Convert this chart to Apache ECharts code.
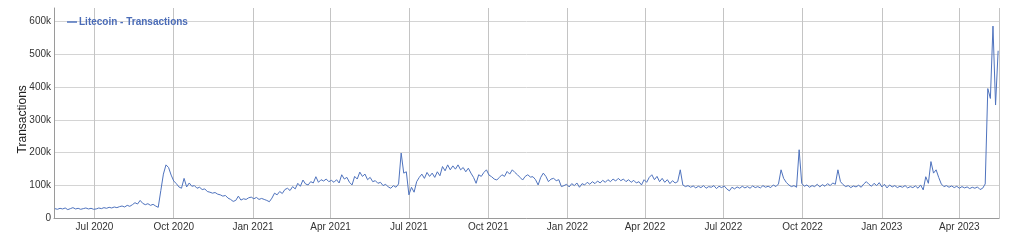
<!DOCTYPE html>
<html>
<head>
<meta charset="utf-8">
<script src="https://cdn.jsdelivr.net/npm/echarts@6/dist/echarts.min.js"></script>
<style>
html,body{margin:0;padding:0;background:#fff;}
#chart{width:1024px;height:240px;}
</style>
</head>
<body>
<div id="chart"></div>
<script>
// Series: Litecoin daily transactions (thousands), sampled every 3 days from 2020-05-16
const seriesName = 'Litecoin - Transactions';
const startDate = [2020, 4, 16];   // 2020-05-16
const stepDays = 3;
const transactionsK = [
  30,28,31,29,32,27,30,33,29,31,
  28,30,32,29,31,28,29,32,30,33,
  31,34,32,35,33,36,38,35,40,37,
  42,48,44,55,46,42,45,40,43,38,
  34,85,135,163,155,132,114,106,96,92,
  122,96,108,98,100,92,95,88,90,82,
  80,77,79,74,72,68,70,62,58,52,
  55,68,56,60,58,63,65,60,64,58,
  61,58,55,51,62,77,72,82,76,88,
  92,85,97,90,107,98,117,105,102,112,
  108,127,110,118,114,120,112,116,110,118,
  108,133,120,125,110,102,128,120,141,128,
  135,118,125,112,115,107,110,100,104,96,
  92,100,95,105,199,138,142,72,95,80,
  112,125,135,122,140,128,138,125,142,130,
  158,145,163,148,160,150,163,148,155,142,
  153,138,125,107,133,128,140,148,132,127,
  120,117,125,133,128,143,135,148,140,133,
  125,117,128,133,126,127,118,102,125,138,
  128,112,120,122,115,118,97,100,104,96,
  106,100,108,95,106,102,110,104,112,106,
  114,108,116,110,118,112,120,114,122,115,
  120,112,118,110,116,108,112,102,118,110,
  125,133,118,128,112,122,110,118,106,115,
  108,112,148,102,97,100,95,99,93,98,
  94,100,92,97,95,100,91,98,94,99,
  90,84,95,90,96,92,98,93,97,92,
  99,94,97,93,100,95,98,94,102,97,
  105,148,122,110,102,97,100,95,209,107,
  98,102,95,100,97,104,96,103,98,106,
  100,108,104,148,112,103,97,100,94,99,
  96,101,95,105,112,104,98,107,100,109,
  96,104,93,102,96,100,94,98,95,100,
  93,97,94,99,92,102,87,127,107,173,
  138,148,125,105,97,100,95,99,94,98,
  92,97,93,96,91,95,92,96,88,92,
  105,395,365,585,345,510
];
const yTicks = [0, 100000, 200000, 300000, 400000, 500000, 600000];
const monthNames = ['Jan','Feb','Mar','Apr','May','Jun','Jul','Aug','Sep','Oct','Nov','Dec'];

const dates = transactionsK.map((_, i) =>
  new Date(startDate[0], startDate[1], startDate[2] + i * stepDays).getTime());
const seriesData = transactionsK.map((v, i) => [dates[i], v * 1000]);

const chart = echarts.init(document.getElementById('chart'), null, {renderer: 'canvas'});
chart.setOption({
  animation: false,
  backgroundColor: '#ffffff',
  grid: {left: 54, right: 25, top: 8, bottom: 21.5, containLabel: false},
  legend: {
    data: [seriesName],
    left: 62, top: 12,
    icon: 'rect', itemWidth: 10, itemHeight: 1.5, itemGap: 10,
    textStyle: {color: '#4b6cb7', fontWeight: 'bold', fontSize: 10, fontFamily: 'Liberation Sans', padding: [0,0,0,-3]}
  },
  xAxis: {
    type: 'time',
    min: new Date(2020, 4, 15).getTime(),
    max: new Date(2023, 4, 17).getTime(),
    splitNumber: 12,
    minInterval: 86400000 * 85,
    maxInterval: 86400000 * 95,
    axisLine: {show: true, lineStyle: {color: '#9a9a9a', width: 1}},
    axisTick: {show: false},
    axisLabel: {
      color: '#333', fontSize: 10, fontFamily: 'Liberation Sans', margin: 4,
      showMinLabel: false, showMaxLabel: false,
      formatter: function (v) {
        const d = new Date(v);
        return monthNames[d.getMonth()] + ' ' + d.getFullYear();
      }
    },
    splitLine: {show: true, lineStyle: {color: '#c4c4c4', width: 1}}
  },
  yAxis: {
    type: 'value',
    min: 0, max: 640000, interval: 100000,
    name: 'Transactions', nameLocation: 'middle', nameGap: 25,
    nameMoveOverlap: false,
    nameTextStyle: {color: '#222', fontSize: 12, fontFamily: 'Liberation Sans', padding: [0, 12, 0, 0]},
    axisLine: {show: true, lineStyle: {color: '#9a9a9a', width: 1}},
    axisTick: {show: false},
    axisLabel: {
      color: '#333', fontSize: 10, fontFamily: 'Liberation Sans', margin: 3,
      showMaxLabel: false,
      formatter: function (v) { return yTicks.indexOf(v) < 0 ? '' : (v === 0 ? '0' : (v / 1000) + 'k'); }
    },
    splitLine: {show: true, showMaxLine: false, lineStyle: {color: '#d4d4d4', width: 1}}
  },
  series: [{
    name: seriesName,
    type: 'line',
    data: seriesData,
    showSymbol: false,
    symbol: 'none',
    lineStyle: {color: '#4f73be', width: 1},
    itemStyle: {color: '#4f73be'}
  }]
});
</script>
</body>
</html>
